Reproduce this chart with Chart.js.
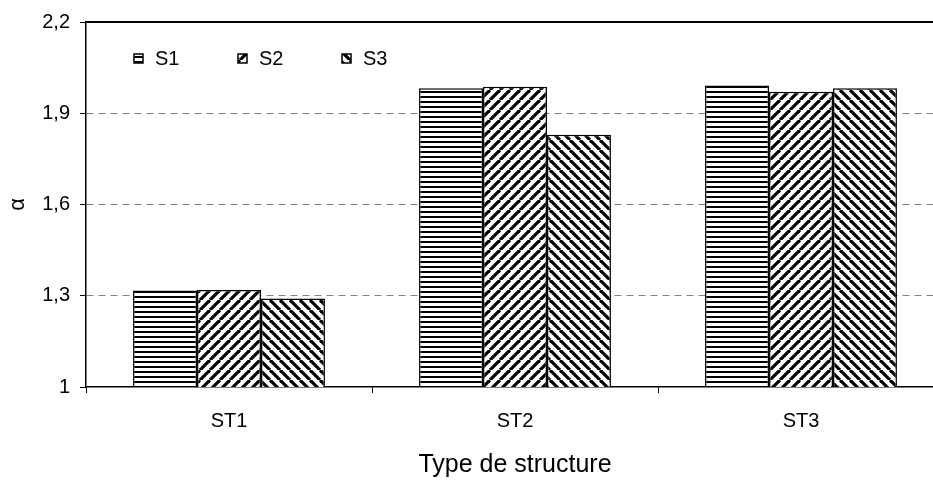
<!DOCTYPE html>
<html><head><meta charset="utf-8">
<script src="https://cdn.jsdelivr.net/npm/chart.js@4/dist/chart.umd.min.js"></script>
<style>
html,body{margin:0;padding:0;background:#fff;overflow:hidden;width:933px;height:484px}
#wrap{position:relative;width:960px;height:484px}
</style>
</head><body><div id="wrap"><canvas id="c" width="960" height="484"></canvas></div>
<script>
const categories = ['ST1', 'ST2', 'ST3'];
const seriesNames = ['S1', 'S2', 'S3'];
const s1 = [1.317, 1.982, 1.991];
const s2 = [1.319, 1.987, 1.971];
const s3 = [1.291, 1.829, 1.982];
const yTicks = [1, 1.3, 1.6, 1.9, 2.2];
const yTitle = 'α';
const xTitle = 'Type de structure';

const FONT = "'Liberation Sans', Arial, sans-serif";
const canvas = document.getElementById('c');
const ctx = canvas.getContext('2d');

function mkTile(w, h, draw) {
  const c = document.createElement('canvas');
  c.width = w; c.height = h;
  const g = c.getContext('2d');
  g.fillStyle = '#fff'; g.fillRect(0, 0, w, h);
  draw(g);
  return ctx.createPattern(c, 'repeat');
}
const patH = mkTile(8, 5, g => { g.fillStyle = '#000'; g.fillRect(0, 1, 8, 2); });
const patF = mkTile(10, 10, g => {
  g.strokeStyle = '#000'; g.lineWidth = 3.2;
  for (const k of [-10, 0, 10]) { g.beginPath(); g.moveTo(k, 10); g.lineTo(k + 10, 0); g.stroke(); }
});
const patB = mkTile(10, 10, g => {
  g.strokeStyle = '#000'; g.lineWidth = 3.2;
  for (const k of [-10, 0, 10]) { g.beginPath(); g.moveTo(k, 0); g.lineTo(k + 10, 10); g.stroke(); }
});
const patterns = [patH, patF, patB];
const seriesData = [s1, s2, s3];

const legendPlugin = {
  id: 'insideLegend',
  afterDraw(chart) {
    const c = chart.ctx, a = chart.chartArea;
    c.save();
    seriesNames.forEach((n, i) => {
      const x = a.left + 48 + i * 104, y = a.top + 32;
      c.fillStyle = patterns[i];
      c.fillRect(x, y, 9, 9);
      c.strokeStyle = '#000'; c.lineWidth = 1.5;
      c.strokeRect(x, y, 9, 9);
      c.fillStyle = '#000';
      c.font = '20px ' + FONT;
      c.textBaseline = 'middle'; c.textAlign = 'left';
      c.fillText(n, x + 21, y + 5.5);
    });
    c.restore();
  }
};
const framePlugin = {
  id: 'frameTop',
  afterDatasetsDraw(chart) {
    const c = chart.ctx, a = chart.chartArea;
    c.save();
    c.strokeStyle = '#000'; c.lineWidth = 2;
    c.beginPath(); c.moveTo(a.left, a.top); c.lineTo(a.right + 20, a.top); c.stroke();
    c.restore();
  }
};

new Chart(ctx, {
  type: 'bar',
  data: {
    labels: categories,
    datasets: seriesNames.map((n, i) => ({
      label: n,
      data: seriesData[i],
      backgroundColor: patterns[i],
      borderColor: '#000',
      borderWidth: 1.5,
      borderSkipped: false,
      categoryPercentage: 0.671,
      barPercentage: 1
    }))
  },
  options: {
    responsive: false,
    animation: false,
    events: [],
    layout: { padding: { top: 20, right: 16, left: 0, bottom: 0 } },
    plugins: { legend: { display: false }, tooltip: { enabled: false } },
    scales: {
      x: {
        afterFit(s) { s.height = 97; },
        grid: { offset: true, drawOnChartArea: false, drawTicks: true, tickLength: 6, tickColor: '#000', tickWidth: 1 },
        border: { color: '#000', width: 1.5 },
        ticks: { color: '#000', font: { family: FONT, size: 20 }, padding: 16 },
        title: { display: true, text: xTitle, color: '#000', font: { family: FONT, size: 25 }, padding: { top: 0, bottom: 4 } }
      },
      y: {
        min: 1, max: 2.2,
        afterFit(s) { s.width = 86; },
        afterBuildTicks(s) { s.ticks = yTicks.map(v => ({ value: v })); },
        grid: {
          color: c => (c.tick && (c.tick.value === 1 || c.tick.value === 2.2)) ? 'rgba(0,0,0,0)' : '#808080',
          tickColor: '#000', tickLength: 6, tickBorderDash: [], tickWidth: 1,
          lineWidth: 1
        },
        border: { color: '#000', width: 1.5, dash: [7, 5] },
        ticks: {
          color: '#000', font: { family: FONT, size: 20 }, padding: 10,
          callback: v => String(Math.round(v * 10) / 10).replace('.', ',')
        },
        title: { display: true, text: yTitle, color: '#000', font: { family: FONT, size: 22 }, padding: { top: 5, bottom: 0 } }
      }
    }
  },
  plugins: [legendPlugin, framePlugin]
});
</script>
</body></html>
